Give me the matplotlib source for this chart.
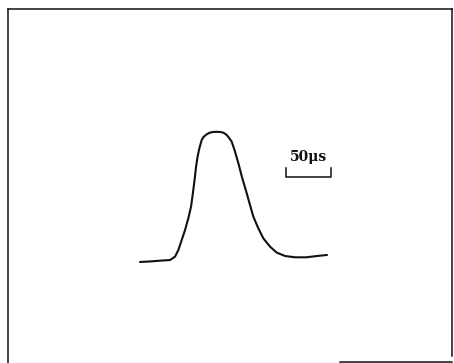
import matplotlib
matplotlib.use("Agg")
import matplotlib.pyplot as plt
from matplotlib.lines import Line2D

# Pulse trace, time in microseconds, amplitude normalised to peak
time_us = [0, 11.0, 22.1, 33.1, 38.6, 42.3, 46.0, 49.7, 53.3, 56.3, 58.5, 60.2,
           61.8, 63.5, 65.5, 68.1, 70.1, 73.6, 76.7, 80.9, 84.5, 88.3, 92.2,
           95.7, 98.3, 101.2, 104.9, 108.6, 112.4, 117.8, 121.4, 125.1, 130.6,
           136.1, 143.5, 150.9, 160.1, 171.1, 183.5, 195.4, 206.4]
amplitude = [0, 0.004, 0.010, 0.015, 0.041, 0.092, 0.169, 0.246, 0.336, 0.425,
             0.538, 0.631, 0.731, 0.808, 0.875, 0.938, 0.962, 0.982, 0.994, 1.0,
             1.001, 1.0, 0.994, 0.977, 0.954, 0.925, 0.848, 0.758, 0.656, 0.528,
             0.438, 0.348, 0.259, 0.182, 0.118, 0.072, 0.046, 0.036, 0.036,
             0.046, 0.054]

scale_label = "50μs"
scale_len_us = 50
scale_start_us = 160.9
scale_level = 0.656
scale_tick_top = 0.723

fig = plt.figure(figsize=(4.54, 3.63), dpi=100)
ax = fig.add_axes([0, 0, 1, 1])
ax.set_xlim(-154.6, 346.6)
ax.set_ylim(-0.777, 2.015)
ax.axis("off")

ink = "#111111"
ax.plot(time_us, amplitude, color=ink, lw=1.5, solid_capstyle="round",
        solid_joinstyle="round")

# scale bar
x0, x1 = scale_start_us, scale_start_us + scale_len_us
ax.plot([x0, x0, x1, x1], [scale_tick_top, scale_level, scale_level, scale_tick_top],
        color=ink, lw=1.1)
ax.text((x0 + x1) / 2, 0.777, scale_label, ha="center", va="baseline",
        fontsize=10, fontweight="bold", family="DejaVu Serif", color=ink)

# frame
L, T, R = 8 / 454, 1 - 9 / 363, 452 / 454
B = 1 - 361.5 / 363
for xs, ys in [([L, L], [T, 0]), ([L, R], [T, T]), ([R, R], [T, 0.02]),
               ([340 / 454, R], [B, B])]:
    ax.add_line(Line2D(xs, ys, transform=ax.transAxes, color=ink, lw=1.1))

fig.savefig("out.png", dpi=100)
